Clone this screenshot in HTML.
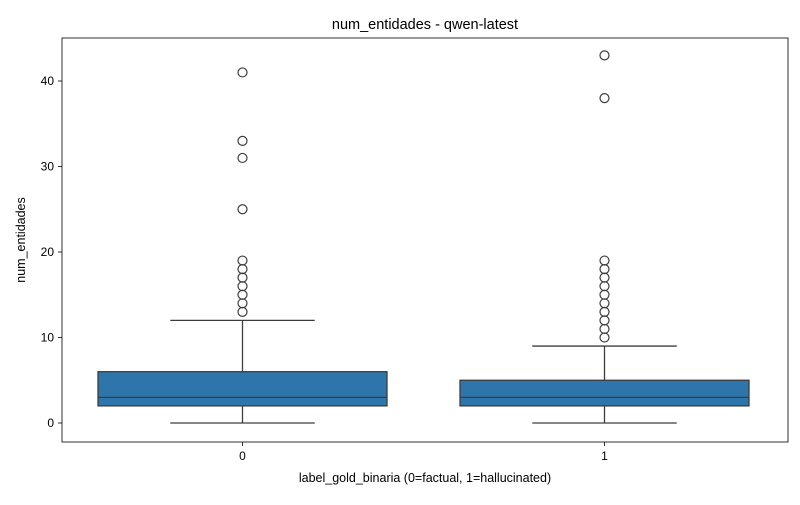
<!DOCTYPE html>
<html><head><meta charset="utf-8"><style>
body{margin:0;background:#fff;font-family:"Liberation Sans","DejaVu Sans",sans-serif;}
</style></head><body>
<svg id="chart" width="800" height="500" xmlns="http://www.w3.org/2000/svg">
<rect width="800" height="500" fill="#fff"/>
</svg>
<script>
const categories = ["0","1"];
const q1 = [2, 2];
const medians = [3, 3];
const q3 = [6, 5];
const whiskLow = [0, 0];
const whiskHigh = [12, 9];
const outliers0 = [13,14,15,16,17,18,19,25,31,33,41];
const outliers1 = [10,11,12,13,14,15,16,17,18,19,38,43];
const outliers = [outliers0, outliers1];
const yTicks = [0,10,20,30,40];

const svg = document.getElementById('chart');
const NS = "http://www.w3.org/2000/svg";
const L=62, R=788, T=38, B=442;
function y(v){ return 423 - v*8.55; }
function xc(i){ return 242.5 + i*362; }
const boxW = 289;
function mk(tag, attrs, name, text){
  const e=document.createElementNS(NS,tag);
  for(const k in attrs) e.setAttribute(k, attrs[k]);
  
  
  if(text!==undefined) e.textContent=text;
  svg.appendChild(e); return e;
}
const ink="#3d3d3d";
categories.forEach((c,i)=>{
  const cx=xc(i);
  mk('line',{x1:cx,x2:cx,y1:y(q1[i]),y2:y(whiskLow[i]),stroke:ink,'stroke-width':1.3},'whisker-low-'+c);
  mk('line',{x1:cx,x2:cx,y1:y(q3[i]),y2:y(whiskHigh[i]),stroke:ink,'stroke-width':1.3},'whisker-high-'+c);
  mk('line',{x1:cx-boxW/4,x2:cx+boxW/4,y1:y(whiskLow[i]),y2:y(whiskLow[i]),stroke:ink,'stroke-width':1.3},'cap-low-'+c);
  mk('line',{x1:cx-boxW/4,x2:cx+boxW/4,y1:y(whiskHigh[i]),y2:y(whiskHigh[i]),stroke:ink,'stroke-width':1.3},'cap-high-'+c);
  mk('rect',{x:cx-boxW/2,y:y(q3[i]),width:boxW,height:y(q1[i])-y(q3[i]),fill:'#2e75ab',stroke:ink,'stroke-width':1.3},'box-'+c);
  mk('line',{x1:cx-boxW/2,x2:cx+boxW/2,y1:y(medians[i]),y2:y(medians[i]),stroke:ink,'stroke-width':1.3},'median-'+c);
  outliers[i].forEach(v=>{
    mk('circle',{cx:cx,cy:y(v),r:4.5,fill:'none',stroke:ink,'stroke-width':1.2},'outlier-'+c);
  });
  mk('line',{x1:cx,x2:cx,y1:B,y2:B+4,stroke:'#000','stroke-width':0.8},'x-tick-'+c);
  mk('text',{x:cx,y:B+18,'text-anchor':'middle','font-size':12},'x-tick-label-'+c,c);
});
yTicks.forEach(t=>{
  mk('line',{x1:L-4,x2:L,y1:y(t),y2:y(t),stroke:'#000','stroke-width':0.8},'y-tick-'+t);
  mk('text',{x:L-8,y:y(t)+4,'text-anchor':'end','font-size':12},'y-tick-label-'+t,t);
});
mk('rect',{x:L,y:T,width:R-L,height:B-T,fill:'none',stroke:'#000','stroke-width':0.8},'plot-frame');
mk('text',{x:(L+R)/2,y:29,'text-anchor':'middle','font-size':14.5},'chart-title','num_entidades - qwen-latest');
mk('text',{x:(L+R)/2,y:482,'text-anchor':'middle','font-size':12.5},'x-axis-title','label_gold_binaria (0=factual, 1=hallucinated)');
mk('text',{x:25,y:240,'text-anchor':'middle','font-size':12.5,transform:'rotate(-90 25 240)'},'y-axis-title','num_entidades');
</script>
</body></html>
